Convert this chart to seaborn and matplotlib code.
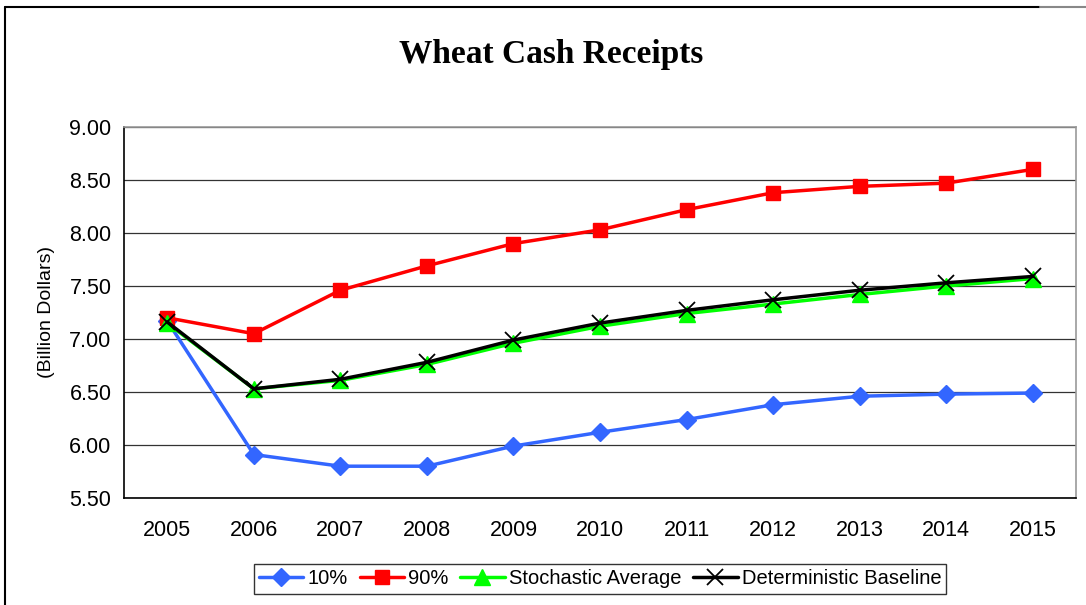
import numpy as np
import pandas as pd
import matplotlib
matplotlib.use("Agg")
import matplotlib.pyplot as plt
from matplotlib.lines import Line2D
import seaborn as sns

years = [2005, 2006, 2007, 2008, 2009, 2010, 2011, 2012, 2013, 2014, 2015]
p10 = [7.17, 5.91, 5.80, 5.80, 5.99, 6.12, 6.24, 6.38, 6.46, 6.48, 6.49]
p90 = [7.20, 7.05, 7.46, 7.69, 7.90, 8.03, 8.22, 8.38, 8.44, 8.47, 8.60]
stoch_avg = [7.15, 6.53, 6.61, 6.76, 6.96, 7.12, 7.24, 7.33, 7.42, 7.50, 7.57]
det_base = [7.16, 6.53, 6.62, 6.78, 6.99, 7.15, 7.27, 7.37, 7.46, 7.53, 7.59]

series = {
    "10%": p10,
    "90%": p90,
    "Stochastic Average": stoch_avg,
    "Deterministic Baseline": det_base,
}

sns.set_style("white")
plt.rcParams["font.family"] = ["Liberation Sans", "DejaVu Sans"]
plt.rcParams["text.color"] = "black"
plt.rcParams["axes.labelcolor"] = "black"
plt.rcParams["xtick.color"] = "black"
plt.rcParams["ytick.color"] = "black"

fig = plt.figure(figsize=(10.86, 6.05), dpi=100)
ax = fig.add_axes([124 / 1086, 1 - 498 / 605, (1076 - 124) / 1086, (498 - 127) / 605])

styles = {
    "10%": dict(color="#3366ff", marker="D", markersize=9, mec="#3366ff"),
    "90%": dict(color="#ff0000", marker="s", markersize=10, mec="#ff0000"),
    "Stochastic Average": dict(color="#00ff00", marker="^", markersize=11, mec="#00ff00"),
    "Deterministic Baseline": dict(color="#000000", marker="x", markersize=11, mec="#000000", mew=1.3),
}

xpos = np.arange(len(years))
for name, vals in series.items():
    df = pd.DataFrame({"x": xpos, "y": vals})
    st = styles[name]
    sns.lineplot(data=df, x="x", y="y", ax=ax, label=name, linewidth=2.5,
                 color=st["color"], marker=st["marker"], markersize=st["markersize"],
                 markeredgecolor=st["mec"], markeredgewidth=st.get("mew", 1))

ax.set_xlim(-0.5, len(years) - 0.5)
ax.set_ylim(5.5, 9.0)
ax.set_yticks(np.arange(5.5, 9.01, 0.5))
ax.set_yticklabels([f"{v:.2f}" for v in np.arange(5.5, 9.01, 0.5)])
ax.set_xticks(xpos)
ax.set_xticklabels([str(y) for y in years])
ax.set_xticks(np.arange(-0.5, len(years), 1.0), minor=True)
ax.tick_params(axis="x", which="major", length=0, pad=16, labelsize=15.5)
ax.tick_params(axis="x", which="minor", length=5, width=1, color="black", direction="out")
ax.tick_params(axis="y", which="major", length=5, width=1, color="black", direction="out", pad=4, labelsize=15.5)

ax.yaxis.grid(True, color="#333333", linewidth=0.9)
ax.set_axisbelow(True)
for s in ["left", "bottom"]:
    ax.spines[s].set_color("black")
    ax.spines[s].set_linewidth(1.2)
for s in ["top", "right"]:
    ax.spines[s].set_color("#999999")
    ax.spines[s].set_linewidth(1.2)

ax.set_xlabel("")
ax.set_ylabel("(Billion Dollars)", fontsize=14, labelpad=10, color="black")

fig.text(551 / 1086, 1 - 55 / 605, "Wheat Cash Receipts", ha="center", va="center",
         fontsize=24, fontweight="bold", color="black",
         family=["Liberation Serif", "DejaVu Serif"])

leg = ax.legend(loc="center", bbox_to_anchor=(600 / 1086, 1 - 579 / 605),
                bbox_transform=fig.transFigure, ncol=4, frameon=True, fancybox=False,
                edgecolor="black", fontsize=14.5, handlelength=2.2, handletextpad=0.2,
                columnspacing=0.6, borderpad=0.25, borderaxespad=0)
leg.get_frame().set_linewidth(1.0)
for t in leg.get_texts():
    t.set_color("black")

# outer chart border (top and left visible)
fig.add_artist(Line2D([5 / 1086, 1040 / 1086], [1 - 7 / 605, 1 - 7 / 605],
                      transform=fig.transFigure, color="black", linewidth=1.5))
fig.add_artist(Line2D([1040 / 1086, 1086 / 1086], [1 - 7 / 605, 1 - 7 / 605],
                      transform=fig.transFigure, color="#888888", linewidth=1.5))
fig.add_artist(Line2D([5 / 1086, 5 / 1086], [1 - 7 / 605, 0],
                      transform=fig.transFigure, color="black", linewidth=1.5))

fig.savefig("out.png", dpi=100)
